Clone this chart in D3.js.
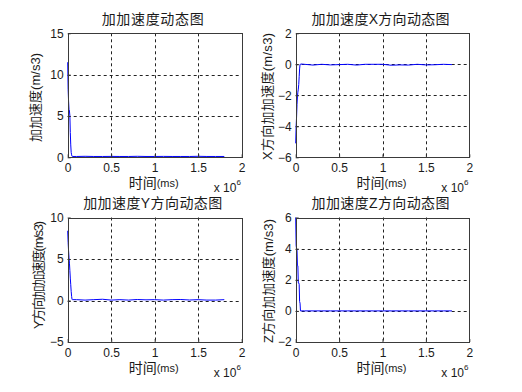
<!DOCTYPE html>
<html>
<head>
<meta charset="utf-8">
<script src="https://cdn.jsdelivr.net/npm/d3@7"></script>
<style>
  body { margin: 0; background: #fff; }
  svg { display: block; }
  text { font-family: "Liberation Sans", Arial, "Noto Sans CJK SC", sans-serif; fill: #1a1a1a; }
  .cjk { font-family: "Liberation Sans", "Noto Sans CJK SC", sans-serif; }
  .tick text { font-size: 12px; }
</style>
</head>
<body>
<div id="chart"></div>
<script>
// time samples (ms), shared by all four series
var timeMs = [0, 5000, 10000, 15000, 20000, 25000, 30000, 35000, 40000, 45000, 50000, 55000, 60000,
  100000, 200000, 300000, 400000, 500000, 600000, 700000, 800000, 900000,
  1000000, 1100000, 1200000, 1300000, 1400000, 1500000, 1600000, 1700000, 1800000];

// 加加速度 (total)
var jerk = [11.5, 8.2, 6.8, 5.8, 5.6, 5.0, 3.0, 1.5, 0.6, 0.3, 0.12, 0.1, 0.1,
  0.1, 0.12, 0.1, 0.1, 0.11, 0.1, 0.1, 0.12, 0.1, 0.1, 0.11, 0.1, 0.1, 0.1, 0.12, 0.1, 0.1, 0.1];
// X 方向
var jerkX = [-5.1, -4.0, -3.4, -2.6, -2.1, -1.8, -1.6, -1.3, -0.8, -0.3, 0.0, 0.0, 0.02,
  0.0, -0.05, 0.0, -0.04, -0.02, 0.0, -0.05, 0.0, 0.0, 0.0, -0.06, -0.04, -0.05, 0.0, -0.04, -0.03, 0.0, -0.02];
// Y 方向
var jerkY = [8.4, 7.0, 6.0, 5.2, 4.5, 3.6, 2.7, 1.9, 1.1, 0.5, 0.12, 0.1, 0.1,
  0.1, 0.05, 0.1, 0.15, 0.05, 0.1, 0.05, 0.12, 0.08, 0.1, 0.05, 0.1, 0.12, 0.06, 0.1, 0.05, 0.05, 0.1];
// Z 方向
var jerkZ = [6.0, 4.2, 4.0, 3.9, 2.9, 2.9, 1.8, 1.8, 1.7, 0.6, 0.5, 0.0, 0.0,
  0, 0, 0, 0, 0, 0, 0, 0, 0, 0, 0, 0, 0, 0, 0, 0, 0, 0];

var xTicks = [0, 500000, 1000000, 1500000, 2000000];
var xTickLabels = ["0", "0.5", "1", "1.5", "2"];

var titles = ["加加速度动态图", "加加速度X方向动态图", "加加速度Y方向动态图", "加加速度Z方向动态图"];
var yLabels = ["加加速度(m/s3)", "X方向加加速度(m/s3)", "Y方向加加速度(m/s3)", "Z方向加加速度(m/s3)"];
var yDomains = [[0, 15], [-6, 2], [-5, 10], [-2, 6]];
var yTicks = [[0, 5, 10, 15], [-6, -4, -2, 0, 2], [-5, 0, 5, 10], [-2, 0, 2, 4, 6]];

var W = 522, H = 392;

// layout of each axes box (pixels)
var panels = [
  {x0: 67.7, x1: 241.7, y0: 33.3, y1: 157.3, series: jerk,  titleLen: 102, yLabX: 35.5, yLabY: 97.5, yLabLen: 89},
  {x0: 295.7, x1: 469.3, y0: 33.3, y1: 157.3, series: jerkX, titleLen: 138, yLabX: 267.5, yLabY: 96.5, yLabLen: 127},
  {x0: 67.7, x1: 241.7, y0: 217.5, y1: 342, series: jerkY, titleLen: 139, yLabX: 38, yLabY: 275, yLabLen: 108},
  {x0: 295.7, x1: 469.3, y0: 217.5, y1: 342, series: jerkZ, titleLen: 138, yLabX: 268, yLabY: 281, yLabLen: 124}
];

var svg = d3.select("#chart").append("svg")
    .attr("width", W)
    .attr("height", H);

svg.append("rect").attr("width", W).attr("height", H).attr("fill", "#fff");

panels.forEach(function(p, i){

  var x = d3.scaleLinear().domain([0, 2000000]).range([p.x0, p.x1]);
  var y = d3.scaleLinear().domain(yDomains[i]).range([p.y1, p.y0]);

  var g = svg.append("g");

  // grid
  g.selectAll(".vgrid")
      .data(xTicks.slice(1, -1))
    .enter().append("line")
      .attr("x1", function(d){ return Math.round(x(d)) + 0.5; })
      .attr("x2", function(d){ return Math.round(x(d)) + 0.5; })
      .attr("y1", p.y0).attr("y2", p.y1)
      .attr("stroke", "#222").attr("stroke-dasharray", "3,3");

  g.selectAll(".hgrid")
      .data(yTicks[i].slice(1, -1))
    .enter().append("line")
      .attr("y1", function(d){ return Math.round(y(d)) + 0.5; })
      .attr("y2", function(d){ return Math.round(y(d)) + 0.5; })
      .attr("x1", p.x0).attr("x2", p.x1)
      .attr("stroke", "#222").attr("stroke-dasharray", "3,3");

  // data line
  var line = d3.line()
      .x(function(d, j){ return x(timeMs[j]); })
      .y(function(d){ return y(d); });

  g.append("path")
      .datum(p.series)
      .attr("d", line)
      .attr("fill", "none")
      .attr("stroke", "#0000ff")
      .attr("stroke-width", 1);

  // axes
  var xAxis = d3.axisBottom(x)
      .tickValues(xTicks)
      .tickFormat(function(d, j){ return xTickLabels[j]; })
      .tickSizeInner(-3).tickSizeOuter(0).tickPadding(6);

  g.append("g")
      .attr("transform", "translate(0," + p.y1 + ")")
      .call(xAxis)
      .call(function(s){ s.select(".domain").remove(); s.selectAll("line").attr("stroke", "#333"); });

  var yAxis = d3.axisLeft(y)
      .tickValues(yTicks[i])
      .tickFormat(d3.format("d"))
      .tickSizeInner(-3).tickSizeOuter(0).tickPadding(4);

  g.append("g")
      .attr("transform", "translate(" + p.x0 + ",0)")
      .call(yAxis)
      .call(function(s){ s.select(".domain").remove(); s.selectAll("line").attr("stroke", "#333"); });

  g.selectAll(".tick text").attr("fill", "#1a1a1a").attr("font-family", "Liberation Sans, Arial, sans-serif");

  // frame
  g.append("rect")
      .attr("x", Math.round(p.x0) + 0.5)
      .attr("y", Math.round(p.y0) + 0.5)
      .attr("width", Math.round(p.x1) - Math.round(p.x0))
      .attr("height", Math.round(p.y1) - Math.round(p.y0))
      .attr("fill", "none")
      .attr("stroke", "#3a3a3a");

  var cx = (p.x0 + p.x1) / 2;

  // title
  g.append("text")
      .attr("class", "cjk")
      .attr("x", cx - 2)
      .attr("y", p.y0 - 14.5)
      .attr("text-anchor", "middle")
      .attr("dominant-baseline", "central")
      .attr("font-size", 14)
      .attr("textLength", p.titleLen)
      .attr("lengthAdjust", "spacing")
      .text(titles[i]);

  // x label
  var xl = g.append("text")
      .attr("class", "cjk")
      .attr("x", cx - 1)
      .attr("y", p.y1 + 26)
      .attr("text-anchor", "middle")
      .attr("dominant-baseline", "central");
  xl.append("tspan").attr("font-size", 14).text("时间");
  xl.append("tspan").attr("font-size", 11).text("(ms)");

  // exponent
  var ex = g.append("text")
      .attr("x", p.x1 - 28)
      .attr("y", p.y1 + 31)
      .attr("dominant-baseline", "central")
      .attr("font-size", 12);
  ex.append("tspan").text("x 10");
  ex.append("tspan").attr("font-size", 8).attr("dy", -6).text("6");

  // y label
  g.append("text")
      .attr("class", "cjk")
      .attr("transform", "translate(" + p.yLabX + "," + p.yLabY + ") rotate(-90)")
      .attr("text-anchor", "middle")
      .attr("dominant-baseline", "central")
      .attr("font-size", 13)
      .attr("textLength", p.yLabLen)
      .attr("lengthAdjust", "spacing")
      .text(yLabels[i]);
});
</script>
</body>
</html>
